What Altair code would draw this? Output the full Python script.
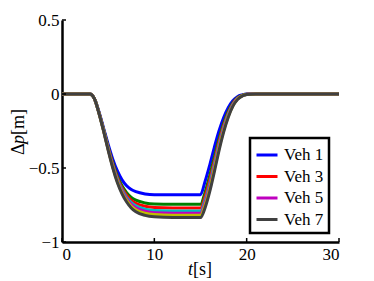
import altair as alt
import pandas as pd

T = [0, 3, 3.5, 4, 4.5, 5, 5.5, 6, 6.5, 7, 7.5, 8, 9, 10, 12, 15,
     15.5, 16, 16.5, 17, 17.5, 18, 18.5, 19, 19.5, 20, 21, 22, 30]

VEH1 = [0, 0, -0.03, -0.12, -0.23, -0.34, -0.44, -0.52, -0.58, -0.62, -0.645, -0.66, -0.675, -0.68, -0.68, -0.68,
        -0.59, -0.48, -0.36, -0.25, -0.16, -0.092, -0.045, -0.018, -0.006, 0, 0, 0, 0]
VEH2 = [0, 0, -0.03, -0.124, -0.238, -0.357, -0.465, -0.554, -0.62, -0.666, -0.698, -0.717, -0.736, -0.743, -0.745, -0.745,
        -0.663, -0.552, -0.426, -0.303, -0.199, -0.118, -0.06, -0.025, -0.009, -0.002, 0, 0, 0]
VEH3 = [0, 0, -0.03, -0.126, -0.242, -0.363, -0.475, -0.566, -0.635, -0.684, -0.718, -0.738, -0.759, -0.767, -0.77, -0.77,
        -0.691, -0.581, -0.453, -0.324, -0.215, -0.129, -0.066, -0.028, -0.011, -0.002, 0, 0, 0]
VEH4 = [0, 0, -0.03, -0.127, -0.244, -0.368, -0.483, -0.577, -0.647, -0.698, -0.734, -0.756, -0.778, -0.787, -0.79, -0.79,
        -0.715, -0.605, -0.475, -0.342, -0.228, -0.137, -0.071, -0.031, -0.012, -0.003, 0, 0, 0]
VEH5 = [0, 0, -0.03, -0.128, -0.246, -0.372, -0.489, -0.585, -0.657, -0.709, -0.746, -0.769, -0.792, -0.802, -0.805, -0.805,
        -0.733, -0.623, -0.492, -0.357, -0.238, -0.145, -0.076, -0.033, -0.012, -0.003, 0, 0, 0]
VEH6 = [0, 0, -0.03, -0.129, -0.248, -0.376, -0.494, -0.592, -0.666, -0.719, -0.758, -0.782, -0.806, -0.815, -0.82, -0.82,
        -0.75, -0.641, -0.508, -0.37, -0.248, -0.152, -0.08, -0.035, -0.013, -0.004, 0, 0, 0]
VEH7 = [0, 0, -0.03, -0.13, -0.25, -0.38, -0.50, -0.60, -0.675, -0.73, -0.77, -0.795, -0.82, -0.83, -0.835, -0.835,
        -0.768, -0.66, -0.526, -0.384, -0.259, -0.159, -0.084, -0.038, -0.014, -0.004, 0, 0, 0]

NAMES = ["Veh 1", "Veh 2", "Veh 3", "Veh 4", "Veh 5", "Veh 6", "Veh 7"]
SERIES = [VEH1, VEH2, VEH3, VEH4, VEH5, VEH6, VEH7]
COLORS = ["#0000ff", "#008000", "#ff0000", "#00bfbf", "#bf00bf", "#bfbf00", "#404040"]
LEGEND_SHOWN = ["Veh 1", "Veh 3", "Veh 5", "Veh 7"]

XTICKS = [0, 10, 20, 30]
YTICKS = [-1, -0.5, 0, 0.5]

rows = []
for i, (name, vals) in enumerate(zip(NAMES, SERIES)):
    for t, v in zip(T, vals):
        rows.append({"t": t, "v": v, "veh": name, "order": i})
df = pd.DataFrame(rows)

FONT = "Liberation Serif"
W, H = 277, 222

xscale = alt.Scale(domain=[0, 30], nice=False, zero=False)
yscale = alt.Scale(domain=[-1, 0.5], nice=False, zero=False)

lines = alt.Chart(df).mark_line(strokeWidth=3, interpolate="monotone").encode(
    x=alt.X("t:Q", scale=xscale,
            axis=alt.Axis(values=XTICKS, title=None, ticks=False, labelPadding=4, format="~g")),
    y=alt.Y("v:Q", scale=yscale,
            axis=alt.Axis(values=YTICKS, title=None, ticks=False, labelPadding=3, format="~g")),
    color=alt.Color("veh:N", scale=alt.Scale(domain=NAMES, range=COLORS),
                    legend=alt.Legend(values=LEGEND_SHOWN, title=None, orient="none",
                                      legendX=188, legendY=118, symbolType="stroke",
                                      symbolSize=441, symbolStrokeWidth=3,
                                      labelFont=FONT, labelFontSize=17, labelColor="black",
                                      labelOffset=5, rowPadding=1.5, padding=5,
                                      strokeColor="black")),
    detail="veh:N",
    order=alt.Order("order:Q"),
)

xt = alt.Chart(pd.DataFrame({"t": XTICKS})).mark_rule(color="black", strokeWidth=1.5).encode(
    x=alt.X("t:Q", scale=xscale), y=alt.value(H), y2=alt.value(H - 4))
yt = alt.Chart(pd.DataFrame({"v": YTICKS})).mark_rule(color="black", strokeWidth=1.5).encode(
    y=alt.Y("v:Q", scale=yscale), x=alt.value(0), x2=alt.value(4))

one = pd.DataFrame({"a": [0]})

def txt(s, x, y, italic=False, angle=0):
    return alt.Chart(one).mark_text(
        text=s, font=FONT, fontSize=18, fontStyle="italic" if italic else "normal",
        align="left", baseline="middle", angle=angle, color="black"
    ).encode(x=alt.value(x), y=alt.value(y))

titles = [
    txt("t", 126, 250, italic=True),
    txt("[s]", 131, 250),
    txt("Δ", -43, 135, angle=270),
    txt("p", -43, 124, italic=True, angle=270),
    txt("[m]", -43, 115, angle=270),
]

chart = alt.layer(lines, xt, yt, *titles).properties(
    width=W, height=H,
    autosize=alt.AutoSizeParams(type="none"),
    padding={"left": 54, "top": 12, "right": 27, "bottom": 50},
).configure_view(stroke=None).configure_axis(
    domainColor="black", domainWidth=2.5, grid=False,
    labelFont=FONT, labelFontSize=17, labelColor="black",
).configure_legend(strokeWidth=2.5)

chart.save("out.html", embed_options={"renderer": "svg", "actions": False})
